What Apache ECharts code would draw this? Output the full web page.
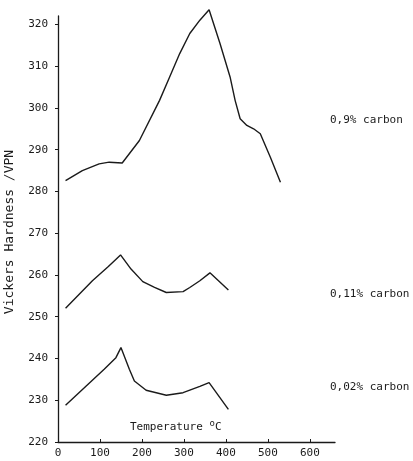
<!DOCTYPE html>
<html>
<head>
<meta charset="utf-8">
<script src="https://cdn.jsdelivr.net/npm/echarts@6/dist/echarts.min.js"></script>
<style>
  html, body { margin: 0; padding: 0; background: #fff; }
  #chart { width: 413px; height: 461px; }
</style>
</head>
<body>
<div id="chart"></div>
<script>
// 读图得到的数据（温度 °C / 维氏硬度 VPN）
const seriesNames = ['0,9% carbon', '0,11% carbon', '0,02% carbon'];

const temp09 = [18, 58, 98, 122, 153, 194, 242, 266, 290, 314, 338, 360, 386, 398, 410, 422, 434, 450, 466, 482, 506, 530];
const hard09 = [282.6, 285, 286.6, 287, 286.8, 292.2, 301.8, 307.4, 313, 317.8, 321, 323.5, 315.4, 311.4, 307.4, 301.8, 297.4, 295.8, 295, 293.8, 288.2, 282.2];

const temp011 = [18, 82, 120, 149, 174, 202, 230, 258, 298, 314, 338, 362, 406];
const hard011 = [252, 258.6, 262, 264.8, 261.4, 258.4, 257, 255.8, 256, 257, 258.6, 260.5, 256.4];

const temp002 = [18, 110, 138, 150, 170, 182, 210, 258, 298, 338, 360, 406];
const hard002 = [228.8, 237.4, 240.2, 242.6, 237.4, 234.6, 232.4, 231.2, 231.8, 233.3, 234.2, 227.8];

// 刻度
const xTicks = [0, 100, 200, 300, 400, 500, 600];
const yTicks = [220, 230, 240, 250, 260, 270, 280, 290, 300, 310, 320];

const mono = '"DejaVu Sans Mono", "Liberation Mono", monospace';
const ink = '#1a1a1a';

const zip = (xs, ys) => xs.map((x, i) => [x, ys[i]]);

const lineSeries = (name, xs, ys) => ({
  name: name,
  type: 'line',
  data: zip(xs, ys),
  showSymbol: false,
  clip: false,
  lineStyle: { color: ink, width: 1.4 },
  silent: true
});

const chart = echarts.init(document.getElementById('chart'));

chart.setOption({
  backgroundColor: '#fff',
  animation: false,
  grid: { left: 58, right: 78, top: 16, bottom: 19 },
  xAxis: {
    type: 'value',
    min: 0,
    max: 660,
    splitLine: { show: false },
    axisLine: { lineStyle: { color: ink, width: 1.3 } },
    axisTick: { inside: true, length: 3, customValues: xTicks, lineStyle: { color: ink } },
    axisLabel: { customValues: xTicks, color: ink, fontFamily: mono, fontSize: 11, margin: 6 }
  },
  yAxis: {
    type: 'value',
    min: 220,
    max: 322,
    splitLine: { show: false },
    axisLine: { show: true, lineStyle: { color: ink, width: 1.3 } },
    axisTick: { show: true, length: 3, customValues: yTicks, lineStyle: { color: ink } },
    axisLabel: { customValues: yTicks, color: ink, fontFamily: mono, fontSize: 11, margin: 10 }
  },
  series: [
    lineSeries(seriesNames[0], temp09, hard09),
    lineSeries(seriesNames[1], temp011, hard011),
    lineSeries(seriesNames[2], temp002, hard002)
  ],
  graphic: [
    {
      type: 'text', left: 330, top: 115,
      style: { text: seriesNames[0], fill: ink, font: '11px ' + mono }
    },
    {
      type: 'text', left: 330, top: 289,
      style: { text: seriesNames[1], fill: ink, font: '11px ' + mono }
    },
    {
      type: 'text', left: 330, top: 382,
      style: { text: seriesNames[2], fill: ink, font: '11px ' + mono }
    },
    {
      type: 'text', left: 130, top: 419,
      style: {
        text: '{a|Temperature }{s|o}{a|C}',
        rich: {
          a: { fill: ink, fontFamily: mono, fontSize: 11, lineHeight: 14 },
          s: { fill: ink, fontFamily: mono, fontSize: 9, lineHeight: 14, padding: [0, 0, 7, 0] }
        }
      }
    },
    {
      type: 'text', x: 10, y: 232, rotation: Math.PI / 2,
      style: {
        text: 'Vickers Hardness /VPN', fill: ink, font: '13px ' + mono,
        align: 'center', verticalAlign: 'middle'
      }
    }
  ]
});
</script>
</body>
</html>
